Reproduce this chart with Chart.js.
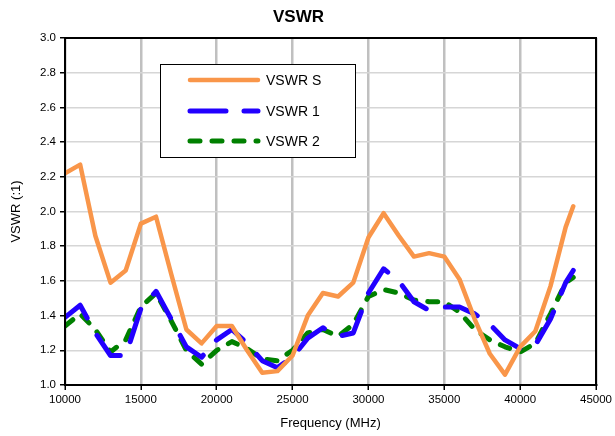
<!DOCTYPE html>
<html>
<head>
<meta charset="utf-8">
<script src="https://cdn.jsdelivr.net/npm/chart.js@4.4.1/dist/chart.umd.min.js"></script>
<style>
  html, body { margin: 0; padding: 0; background: #fff; }
  #wrap { width: 615px; height: 436px; }
</style>
</head>
<body>
<div id="wrap"><canvas id="vswrChart" width="615" height="436"></canvas></div>
<script>
// frequency points (MHz)
const freqs = [10000, 11000, 12000, 13000, 14000, 15000, 16000, 17000, 18000, 19000,
               20000, 21000, 22000, 23000, 24000, 25000, 26000, 27000, 28000, 29000,
               30000, 31000, 32000, 33000, 34000, 35000, 36000, 37000, 38000, 39000,
               40000, 41000, 42000, 43000, 43500];

const vswrS = [2.22, 2.27, 1.86, 1.59, 1.66, 1.93, 1.97, 1.64, 1.32, 1.24,
               1.34, 1.34, 1.20, 1.07, 1.08, 1.17, 1.40, 1.53, 1.51, 1.59,
               1.85, 1.99, 1.86, 1.74, 1.76, 1.74, 1.61, 1.38, 1.18, 1.06,
               1.22, 1.31, 1.57, 1.91, 2.03];

const vswr1 = [1.39, 1.46, 1.30, 1.17, 1.17, 1.44, 1.54, 1.38, 1.22, 1.16,
               1.26, 1.32, 1.24, 1.14, 1.10, 1.16, 1.27, 1.33, 1.28, 1.30,
               1.53, 1.67, 1.60, 1.48, 1.43, 1.45, 1.45, 1.41, 1.35, 1.26,
               1.21, 1.23, 1.38, 1.59, 1.66];

const vswr2 = [1.34, 1.41, 1.32, 1.19, 1.26, 1.45, 1.53, 1.37, 1.20, 1.12,
               1.20, 1.25, 1.21, 1.15, 1.14, 1.20, 1.30, 1.32, 1.28, 1.35,
               1.51, 1.55, 1.53, 1.49, 1.48, 1.48, 1.42, 1.32, 1.26, 1.22,
               1.19, 1.24, 1.41, 1.59, 1.62];

const xTicks = [10000, 15000, 20000, 25000, 30000, 35000, 40000, 45000];

function toPoints(ys) {
    return freqs.map((f, i) => ({ x: f, y: ys[i] }));
}

// legend box inside plot + frame round the plot area
const boxPlugin = {
    id: 'boxPlugin',
    afterDraw(chart) {
        const ctx = chart.ctx;
        const a = chart.chartArea;
        ctx.save();
        ctx.strokeStyle = '#000';
        ctx.lineWidth = 2;
        ctx.strokeRect(a.left, a.top, a.right - a.left, a.bottom - a.top);

        // legend
        const lx = 160, ly = 64, lw = 195, lh = 93;
        ctx.fillStyle = '#fff';
        ctx.fillRect(lx, ly, lw, lh);
        ctx.lineWidth = 1;
        ctx.strokeRect(lx + 0.5, ly + 0.5, lw, lh);

        const rows = [80, 111, 141];
        chart.data.datasets.forEach((ds, i) => {
            const y = rows[i];
            ctx.beginPath();
            ctx.strokeStyle = ds.borderColor;
            ctx.lineWidth = ds.borderWidth;
            ctx.lineCap = 'round';
            ctx.setLineDash(ds.legendDash || []);
            ctx.moveTo(190, y);
            ctx.lineTo(258, y);
            ctx.stroke();
            ctx.setLineDash([]);
            ctx.fillStyle = '#000';
            ctx.font = '14px "Liberation Sans", Arial, sans-serif';
            ctx.textBaseline = 'middle';
            ctx.textAlign = 'left';
            ctx.fillText(ds.label, 266, y + 1);
        });
        ctx.restore();
    }
};

const ctx = document.getElementById('vswrChart').getContext('2d');
new Chart(ctx, {
    type: 'line',
    data: {
        datasets: [{
            label: 'VSWR S',
            data: toPoints(vswrS),
            borderColor: '#f9964a',
            borderWidth: 4.5,
            borderCapStyle: 'round',
            borderJoinStyle: 'round',
            pointRadius: 0,
            tension: 0
        }, {
            label: 'VSWR 1',
            data: toPoints(vswr1),
            borderColor: '#2200ff',
            borderWidth: 5,
            borderDash: [34, 20],
            legendDash: [36, 18],
            borderCapStyle: 'round',
            borderJoinStyle: 'round',
            pointRadius: 0,
            tension: 0
        }, {
            label: 'VSWR 2',
            data: toPoints(vswr2),
            borderColor: '#008000',
            borderWidth: 5,
            borderDash: [10, 12],
            legendDash: [10, 12],
            borderCapStyle: 'round',
            borderJoinStyle: 'round',
            pointRadius: 0,
            tension: 0
        }]
    },
    options: {
        responsive: false,
        animation: false,
        layout: { padding: { left: 0, right: 18, top: 0, bottom: 0 } },
        plugins: {
            legend: { display: false },
            tooltip: { enabled: false },
            title: {
                display: true,
                text: 'VSWR',
                color: '#000',
                font: { family: '"Liberation Sans", Arial, sans-serif', size: 17, weight: 'bold' },
                padding: { top: 7, bottom: 10.6 }
            }
        },
        scales: {
            x: {
                type: 'linear',
                min: 10000,
                max: 45000,
                afterBuildTicks(scale) {
                    scale.ticks = xTicks.map(v => ({ value: v }));
                },
                afterFit(scale) { scale.height = 51; },
                ticks: {
                    color: '#000',
                    padding: 3,
                    maxRotation: 0,
                    font: { family: '"Liberation Sans", Arial, sans-serif', size: 11.5 },
                    callback: v => String(v)
                },
                grid: { color: '#c0c0c0', lineWidth: 2.5, tickLength: 5, tickColor: '#000', tickWidth: 1.5 },
                border: { color: '#000', width: 2 },
                title: {
                    display: true,
                    text: 'Frequency (MHz)',
                    color: '#000',
                    font: { family: '"Liberation Sans", Arial, sans-serif', size: 13 },
                    padding: { top: 0, bottom: 5 }
                }
            },
            y: {
                min: 1.0,
                max: 3.0,
                afterFit(scale) { scale.width = 65; },
                ticks: {
                    stepSize: 0.2,
                    color: '#000',
                    padding: 4,
                    font: { family: '"Liberation Sans", Arial, sans-serif', size: 11.5 },
                    callback: v => Number(v).toFixed(1)
                },
                grid: { color: '#d6d6d6', lineWidth: 1.5, tickLength: 5, tickColor: '#000', tickWidth: 1.5 },
                border: { color: '#000', width: 2 },
                title: {
                    display: true,
                    text: 'VSWR (:1)',
                    color: '#000',
                    font: { family: '"Liberation Sans", Arial, sans-serif', size: 13 },
                    padding: { top: 9, bottom: 0 }
                }
            }
        }
    },
    plugins: [boxPlugin]
});
</script>
</body>
</html>
